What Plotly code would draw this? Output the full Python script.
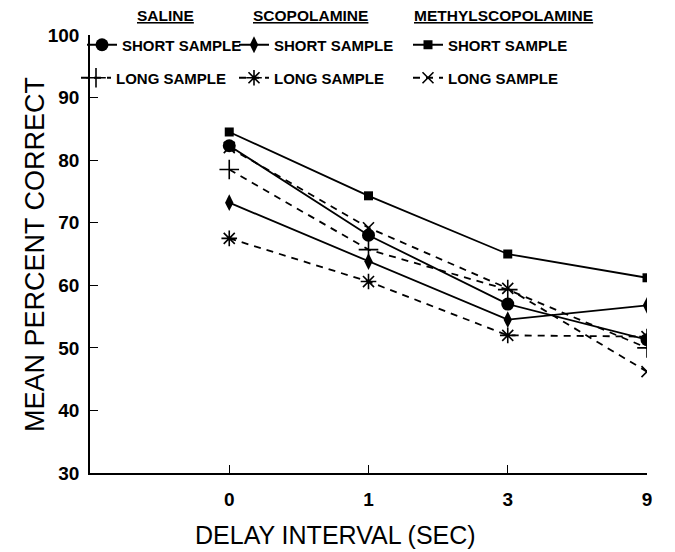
import plotly.graph_objects as go

delays = ["0", "1", "3", "9"]
saline_short = [82.3, 68.0, 57.0, 51.3]
saline_long = [78.5, 65.7, 59.3, 50.0]
scop_short = [73.2, 63.8, 54.5, 56.8]
scop_long = [67.5, 60.6, 52.0, 51.8]
methyl_short = [84.5, 74.3, 65.0, 61.2]
methyl_long = [82.0, 69.2, 59.5, 46.2]

FONT = "Liberation Sans, Arial, Helvetica, sans-serif"
L, R, T, B = 90, 28, 35, 79
W, H = 675, 552
PW, PH = W - L - R, H - T - B

series = [
    ("SHORT SAMPLE", saline_short, "circle", 13, "solid", "legend", 82),
    ("SHORT SAMPLE", scop_short, "diamond-tall", 12, "solid", "legend2", 234),
    ("SHORT SAMPLE", methyl_short, "square", 9, "solid", "legend3", 408),
    ("LONG SAMPLE", saline_long, "cross-thin", 14, "dash", "legend4", 76),
    ("LONG SAMPLE", scop_long, "asterisk", 13, "dash", "legend5", 234),
    ("LONG SAMPLE", methyl_long, "x-thin", 11, "dash", "legend6", 408),
]

fig = go.Figure()
legends = {}
for name, vals, sym, size, dash, leg, lx in series:
    thin = sym in ("cross-thin", "x-thin", "asterisk")
    fig.add_trace(go.Scatter(
        x=delays, y=vals, name=name, mode="lines+markers",
        line=dict(color="black", width=1.8, dash="solid" if dash == "solid" else "7px,6px"),
        marker=dict(symbol=sym, size=size, color="black",
                    line=dict(color="black", width=1.6 if thin else 0)),
        legend=leg,
    ))
    row_y = 45 if name.startswith("SHORT") else 78
    legends[leg] = dict(
        x=(lx - L) / PW, y=1 - (row_y - T) / PH, xanchor="left", yanchor="middle",
        orientation="h", bgcolor="rgba(0,0,0,0)", borderwidth=0,
        font=dict(family=FONT, size=15, color="black", weight="bold"),
        itemwidth=30,
    )

headers = [("SALINE", 165), ("SCOPOLAMINE", 310), ("METHYLSCOPOLAMINE", 503)]
annotations = []
for txt, cx in headers:
    annotations.append(dict(
        text="<u>" + txt + "</u>", x=(cx - L) / PW, y=1 + (T - 15) / PH,
        xref="paper", yref="paper", showarrow=False, xanchor="center", yanchor="middle",
        font=dict(family=FONT, size=15.5, color="black", weight="bold"),
    ))
annotations.append(dict(
    text="DELAY INTERVAL (SEC)", x=(335 - L) / PW, y=-(535 - T - PH) / PH,
    xref="paper", yref="paper", showarrow=False, xanchor="center", yanchor="middle",
    font=dict(family=FONT, size=25, color="black"),
))
annotations.append(dict(
    text="MEAN PERCENT CORRECT", x=-(L - 35) / PW, y=1 - (255 - T) / PH,
    xref="paper", yref="paper", showarrow=False, xanchor="center", yanchor="middle",
    textangle=-90, font=dict(family=FONT, size=27, color="black"),
))

fig.update_layout(
    width=W, height=H, margin=dict(l=L, r=R, t=T, b=B),
    plot_bgcolor="white", paper_bgcolor="white",
    showlegend=True, annotations=annotations, **legends,
    xaxis=dict(type="category", range=[-1, 3], showgrid=False, zeroline=False,
               showline=True, linecolor="black", linewidth=1.5,
               ticks="inside", ticklen=8, tickwidth=1.2, tickcolor="black",
               ticklabelstandoff=8,
               tickfont=dict(family=FONT, size=19, color="black", weight="bold")),
    yaxis=dict(range=[30, 100], dtick=10, showgrid=False, zeroline=False,
               showline=True, linecolor="black", linewidth=1.5,
               ticks="inside", ticklen=8, tickwidth=1.2, tickcolor="black",
               ticklabelstandoff=5,
               tickfont=dict(family=FONT, size=19, color="black", weight="bold")),
)

fig.write_html("out.html")
